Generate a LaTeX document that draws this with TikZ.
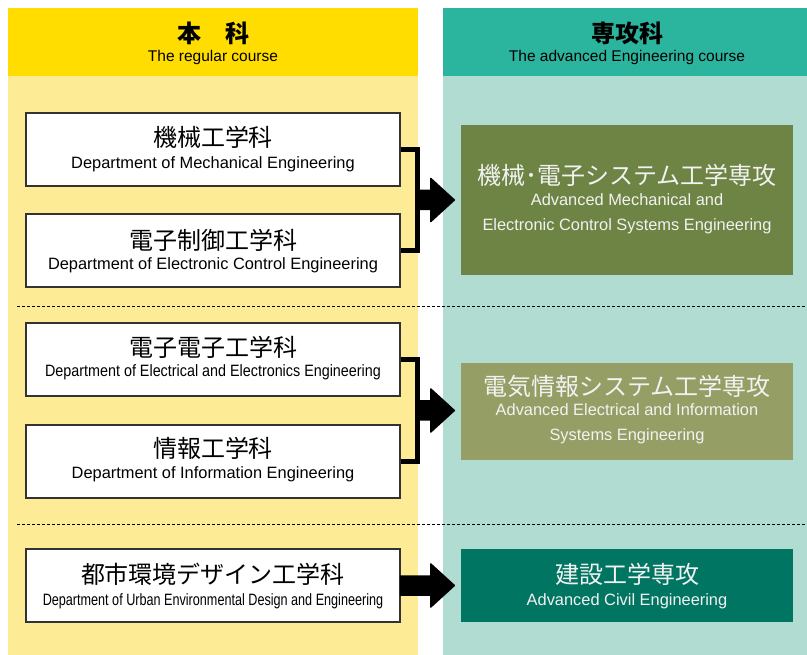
\documentclass[tikz,border=0pt]{standalone}
\usepackage{fontspec}
\usepackage{graphicx}
\setmainfont{Liberation Sans}
\newfontfamily\jp{Noto Sans CJK JP}
\usetikzlibrary{calc}
\definecolor{hdyellow}{HTML}{FFDD00}
\definecolor{bgyellow}{HTML}{FEEB95}
\definecolor{hdteal}{HTML}{2BB59E}
\definecolor{bgteal}{HTML}{B0DCD1}
\definecolor{olive}{HTML}{6E8444}
\definecolor{lolive}{HTML}{959F65}
\definecolor{dgreen}{HTML}{007662}
\definecolor{boxline}{HTML}{333333}
\definecolor{wtext}{HTML}{F2F2F2}
\newcommand\fatarrow[2]{%
  \filldraw[black, line width=1.5pt, line join=round]
    let \p1=(#1), \p2=(#2) in
    (\x1,\y1+9.5pt) -- (\x2-30pt,\y1+9.5pt) -- (\x2-30pt,\y1+21.5pt) -- (\x2-6.5pt,\y1)
    -- (\x2-30pt,\y1-21.5pt) -- (\x2-30pt,\y1-9.5pt) -- (\x1,\y1-9.5pt) -- cycle;}
\begin{document}
\begin{tikzpicture}[x=1pt,y=-1pt,
  leftbox/.style={draw=boxline, line width=1.2pt, fill=white, minimum width=374pt, minimum height=73pt, inner sep=0pt},
  rightbox/.style={minimum width=332pt, inner sep=0pt},
  jptxt/.style={font=\jp\fontsize{24}{24}\selectfont, inner sep=0pt, text height=20pt, text depth=1.5pt},
  hdjp/.style={font=\jp\bfseries\fontsize{24}{24}\selectfont, inner sep=0pt, text height=20pt, text depth=1.5pt},
  entxt/.style={font=\fontsize{16.4}{16.4}\selectfont, inner sep=0pt, text height=11.8pt, text depth=0pt},
  hden/.style={font=\fontsize{15.5}{15.5}\selectfont, inner sep=0pt, text height=11.2pt, text depth=0pt},
  sep/.style={line width=0.9pt, dash pattern=on 3pt off 2pt},
  bracket/.style={line width=4.5pt, line join=miter}]
\useasboundingbox (0,0) rectangle (807,655);
\fill[white] (0,0) rectangle (807,655);
% columns
\fill[hdyellow] (8,8) rectangle (418,76);
\fill[bgyellow] (8,76) rectangle (418,655);
\fill[hdteal] (443,8) rectangle (807,76);
\fill[bgteal] (443,76) rectangle (807,655);
% headers
\node[hdjp] (h1jp) at (213,33) {本　科};
\node[hden] (h1en) at (213,56) {The regular course};
\node[hdjp] (h2jp) at (627,33) {専攻科};
\node[hden] (h2en) at (627,56) {The advanced Engineering course};
% separators
\draw[sep] (17,306) -- (805,306);
\draw[sep] (17,524) -- (805,524);
% left boxes
\node[leftbox] (l1) at (213,149.5) {};
\node[leftbox] (l2) at (213,250.5) {};
\node[leftbox] (l3) at (213,359.5) {};
\node[leftbox] (l4) at (213,461.5) {};
\node[leftbox] (l5) at (213,585.5) {};
\node[jptxt] (l1jp) at (213,137) {機械工学科};
\node[entxt] (l1en) at (213,163) {Department of Mechanical Engineering};
\node[jptxt] (l2jp) at (213,240) {電子制御工学科};
\node[entxt] (l2en) at (213,264) {Department of Electronic Control Engineering};
\node[jptxt] (l3jp) at (213,347) {電子電子工学科};
\node[entxt] (l3en) at (213,371) {\scalebox{0.875}[1]{Department of Electrical and Electronics Engineering}};
\node[jptxt] (l4jp) at (213,448) {情報工学科};
\node[entxt] (l4en) at (213,473) {Department of Information Engineering};
\node[jptxt] (l5jp) at (213,574) {都市環境デザイン工学科};
\node[entxt] (l5en) at (213,600) {\scalebox{0.77}[1]{Department of Urban Environmental Design and Engineering}};
% right boxes
\node[rightbox, fill=olive, minimum height=150pt] (r1) at (627,200) {};
\node[rightbox, fill=lolive, minimum height=97pt] (r2) at (627,411.5) {};
\node[rightbox, fill=dgreen, minimum height=73pt] (r3) at (627,585.5) {};
\node[jptxt, text=wtext] (r1jp) at (627,175) {機械･電子システム工学専攻};
\node[entxt, text=wtext] (r1en1) at (627,200) {Advanced Mechanical and};
\node[entxt, text=wtext] (r1en2) at (627,225) {Electronic Control Systems Engineering};
\node[jptxt, text=wtext] (r2jp) at (627,386) {電気情報システム工学専攻};
\node[entxt, text=wtext] (r2en1) at (627,410) {Advanced Electrical and Information};
\node[entxt, text=wtext] (r2en2) at (627,435) {Systems Engineering};
\node[jptxt, text=wtext] (r3jp) at (627,574) {建設工学専攻};
\node[entxt, text=wtext] (r3en) at (627,600) {Advanced Civil Engineering};
% brackets
\coordinate (j1) at (417.5,200);
\coordinate (j2) at (417.5,410.5);
\draw[bracket] (l1.east) -| (j1) |- (l2.east);
\draw[bracket] (l3.east) -| (j2) |- (l4.east);
% arrows
\fatarrow{j1}{r1.west}
\fatarrow{j2}{r2.west}
\fatarrow{l5.east}{r3.west}
\end{tikzpicture}
\end{document}
